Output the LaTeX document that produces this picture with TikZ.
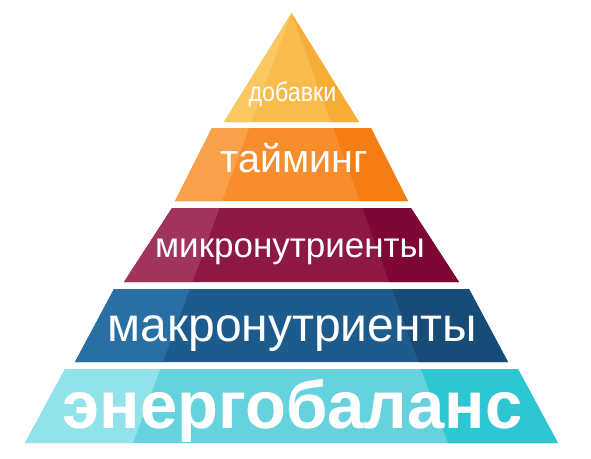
\documentclass[tikz,border=0pt]{standalone}
\usepackage{fontspec}
\setmainfont{Liberation Sans}
\usepackage{tikz}
\usetikzlibrary{positioning}
\usepackage{xcolor}

\definecolor{yelL}{HTML}{FAC862}
\definecolor{yelM}{HTML}{F8BB4C}
\definecolor{yelR}{HTML}{F6AE38}
\definecolor{orgL}{HTML}{F9A04A}
\definecolor{orgM}{HTML}{F78D2D}
\definecolor{orgR}{HTML}{F57D14}
\definecolor{magL}{HTML}{A0345C}
\definecolor{magM}{HTML}{8E1844}
\definecolor{magR}{HTML}{7D0836}
\definecolor{bluL}{HTML}{2A6FA3}
\definecolor{bluM}{HTML}{1D5B8D}
\definecolor{bluR}{HTML}{174B78}
\definecolor{cyaL}{HTML}{92E2EA}
\definecolor{cyaM}{HTML}{66D2DD}
\definecolor{cyaR}{HTML}{2FC6D3}

\tikzset{
  lbl/.style={text=white, anchor=base, inner sep=0pt},
}

\begin{document}
\begin{tikzpicture}[x=1pt,y=-1pt]
		\useasboundingbox (0,0) rectangle (591,458);
		% facet lines run from the apex down to these points
		\coordinate (apex) at (291.5,13);
		\coordinate (fl) at (-25.5,873);
		\coordinate (fr) at (604.5,873);
		% top: dobavki
		\begin{scope}
		\clip (apex) -- (359,122) -- (224,122) -- cycle;
		\fill[yelM] (0,0) rectangle (591,458);
		\fill[yelL] (apex) -- (fl) -- (-100,900) -- (-100,0) -- cycle;
		\fill[yelR] (apex) -- (fr) -- (700,900) -- (700,0) -- cycle;
		\end{scope}
		% timing
		\begin{scope}
		\clip (212,128) -- (371,128) -- (408,201) -- (175,201) -- cycle;
		\fill[orgM] (0,0) rectangle (591,458);
		\fill[orgL] (apex) -- (fl) -- (-100,900) -- (-100,0) -- cycle;
		\fill[orgR] (apex) -- (fr) -- (700,900) -- (700,0) -- cycle;
		\end{scope}
		% micro
		\begin{scope}
		\clip (172,208) -- (411,208) -- (459,282) -- (124,282) -- cycle;
		\fill[magM] (0,0) rectangle (591,458);
		\fill[magL] (apex) -- (fl) -- (-100,900) -- (-100,0) -- cycle;
		\fill[magR] (apex) -- (fr) -- (700,900) -- (700,0) -- cycle;
		\end{scope}
		% macro
		\begin{scope}
		\clip (114,289) -- (469,289) -- (508,362) -- (75,362) -- cycle;
		\fill[bluM] (0,0) rectangle (591,458);
		\fill[bluL] (apex) -- (fl) -- (-100,900) -- (-100,0) -- cycle;
		\fill[bluR] (apex) -- (fr) -- (700,900) -- (700,0) -- cycle;
		\end{scope}
		% energy balance
		\begin{scope}
		\clip (65,369) -- (518,369) -- (558,443) -- (25,443) -- cycle;
		\fill[cyaM] (0,0) rectangle (591,458);
		\fill[cyaL] (apex) -- (fl) -- (-100,900) -- (-100,0) -- cycle;
		\fill[cyaR] (apex) -- (fr) -- (700,900) -- (700,0) -- cycle;
		\end{scope}
		\node[lbl, font=\fontsize{27}{27}\selectfont] (dob) at (292.5,101) {\scalebox{0.86}[1]{добавки}};
		\node[lbl, font=\fontsize{39.5}{39.5}\selectfont] (taim) at (294,172) {тайминг};
		\node[lbl, font=\fontsize{35}{35}\selectfont] (mikro) at (290,257) {микронутриенты};
		\node[lbl, font=\fontsize{48}{48}\selectfont] (makro) at (292.5,341) {макронутриенты};
		\node[lbl, font=\fontsize{67}{67}\selectfont\bfseries] (energ) at (292.5,428) {энергобаланс};
\end{tikzpicture}
\end{document}
